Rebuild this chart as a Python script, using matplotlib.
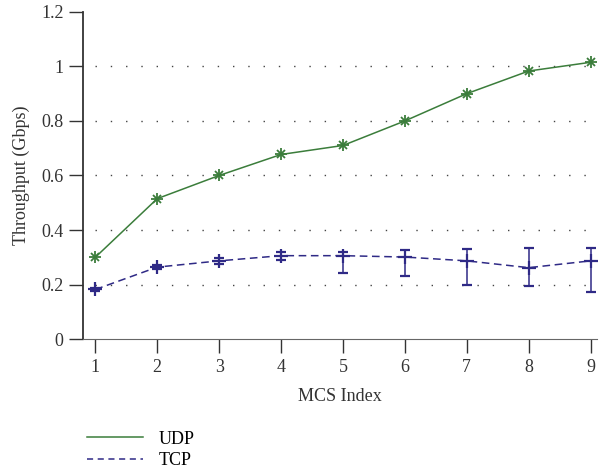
import numpy as np
import matplotlib
matplotlib.use("Agg")
import matplotlib.pyplot as plt

plt.rcParams["font.family"] = ["Liberation Serif", "DejaVu Serif"]

mcs = [1, 2, 3, 4, 5, 6, 7, 8, 9]
udp = [0.300, 0.515, 0.600, 0.677, 0.710, 0.800, 0.900, 0.983, 1.015]
tcp = [0.182, 0.264, 0.287, 0.306, 0.306, 0.301, 0.287, 0.262, 0.287]
tcp_low = [0.178, 0.258, 0.275, 0.289, 0.244, 0.232, 0.200, 0.194, 0.171]
tcp_high = [0.186, 0.270, 0.299, 0.319, 0.319, 0.326, 0.330, 0.333, 0.335]

green = "#3b7d3b"
navy = "#2f2a86"

fig = plt.figure(figsize=(6.01, 4.73), dpi=100)
ax = fig.add_axes([0.138, 0.283, 0.855, 0.692])

# dotted guide lines
for y in [0.2, 0.4, 0.6, 0.8, 1.0]:
    ax.plot([1, 9], [y, y], linestyle=(0, (1, 10)), color="#444444", lw=1.0, zorder=1)

ax.plot(mcs, udp, color=green, lw=1.1, zorder=3)
ax.plot(mcs, udp, "+", color=green, ms=8, mew=1.3, zorder=4)
ax.plot(mcs, udp, "x", color=green, ms=6, mew=1.3, zorder=4)

tcp = np.array(tcp)
yerr = [tcp - np.array(tcp_low), np.array(tcp_high) - tcp]
ax.errorbar(mcs, tcp, yerr=yerr, color=navy, lw=1.1, linestyle=(0, (5, 3)),
            marker="+", ms=10, mew=1.6, capsize=3.5, elinewidth=1.1, capthick=1.1, zorder=3)

ax.set_xlim(0.8, 9.1)
ax.set_ylim(0, 1.2)
ax.set_xticks(mcs)
ax.set_yticks([0, 0.2, 0.4, 0.6, 0.8, 1, 1.2])
ax.set_yticklabels(["0", "0.2", "0.4", "0.6", "0.8", "1", "1.2"])
ax.spines["top"].set_visible(False)
ax.spines["right"].set_visible(False)
ax.spines["left"].set_color("#333333")
ax.spines["bottom"].set_color("#666666")
ax.spines["left"].set_linewidth(1.3)
ax.tick_params(direction="out", length=10, width=1.0, colors="#333333", labelsize=13, pad=4)
ax.set_xlabel("MCS Index", fontsize=13, color="#333333", labelpad=9)
ax.set_ylabel("Throughput (Gbps)", fontsize=13, color="#333333", labelpad=8)

# legend below the plot
lines = [plt.Line2D([], [], color=green, lw=1.1),
         plt.Line2D([], [], color=navy, lw=1.1, linestyle=(0, (4, 3)))]
fig.legend(lines, ["UDP", "TCP"], loc="upper left", bbox_to_anchor=(0.132, 0.105),
           frameon=False, fontsize=13, handlelength=3.1, handletextpad=0.9,
           labelspacing=0.25, borderaxespad=0)

fig.savefig("out.png", dpi=100)
